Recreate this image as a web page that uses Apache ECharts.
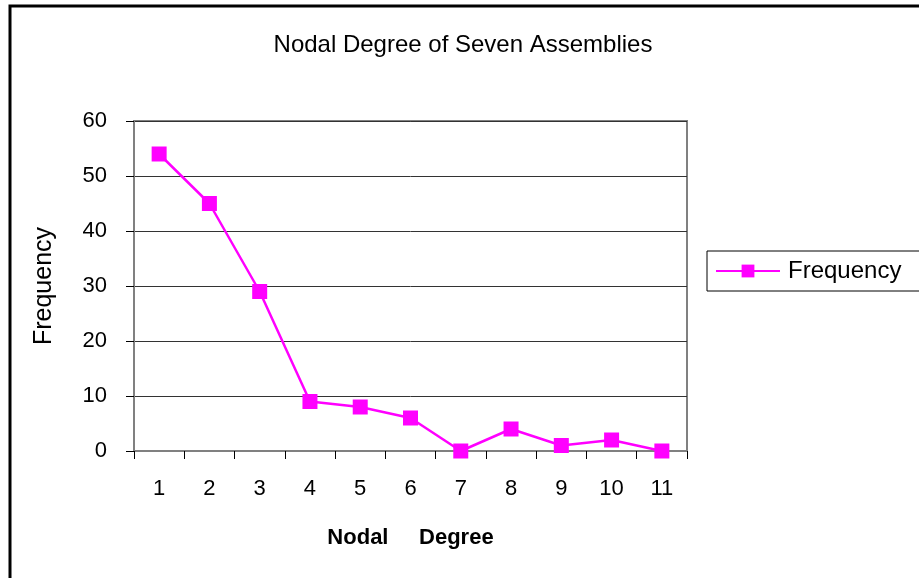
<!DOCTYPE html>
<html>
<head>
<meta charset="utf-8">
<script src="https://cdn.jsdelivr.net/npm/echarts@6/dist/echarts.min.js"></script>
<style>
  html, body { margin: 0; padding: 0; background: #fff; }
  #chart { width: 919px; height: 578px; }
</style>
</head>
<body>
<div id="chart"></div>
<script>
const degrees = ['1', '2', '3', '4', '5', '6', '7', '8', '9', '10', '11']
const frequency = [54, 45, 29, 9, 8, 6, 0, 4, 1, 2, 0]

const chart = echarts.init(document.getElementById('chart'))
const font = 'Liberation Sans, Arial, sans-serif'

chart.setOption({
    animation: false,
    backgroundColor: '#fff',
    title: {
        text: 'Nodal Degree of Seven Assemblies',
        left: 458,
        textAlign: 'center',
        top: 28,
        textStyle: { fontFamily: font, fontSize: 24, fontWeight: 'normal', color: '#000' }
    },
    graphic: [{
        type: 'rect',
        shape: { x: 10, y: 6, width: 1000, height: 1000 },
        style: { fill: 'none', stroke: '#000', lineWidth: 3 },
        silent: true
    }],
    legend: {
        left: 707,
        top: 251,
        orient: 'vertical',
        padding: [8, 40, 8, 8],
        borderColor: '#000',
        borderWidth: 1,
        itemWidth: 64,
        itemHeight: 16,
        itemGap: 0,
        textStyle: { fontFamily: font, fontSize: 24, color: '#000', padding: [0, 0, 0, 3] },
        data: ['Frequency']
    },
    grid: {
        left: 134,
        top: 121,
        right: 232,
        bottom: 127,
        show: true,
        borderColor: '#808080',
        borderWidth: 2
    },
    xAxis: {
        type: 'category',
        data: degrees,
        boundaryGap: true,
        name: 'Nodal     Degree',
        nameLocation: 'middle',
        nameGap: 76,
        nameTextStyle: { fontFamily: font, fontSize: 22, fontWeight: 'bold', color: '#000' },
        axisLine: { lineStyle: { color: '#808080', width: 2 } },
        axisTick: { show: true, length: 8, lineStyle: { color: '#000' } },
        axisLabel: { margin: 27, fontFamily: font, fontSize: 22, color: '#000' }
    },
    yAxis: {
        type: 'value',
        min: 0,
        max: 60,
        interval: 10,
        name: 'Frequency',
        nameLocation: 'middle',
        nameGap: 77,
        nameRotate: 90,
        nameTextStyle: { fontFamily: font, fontSize: 25, color: '#000' },
        axisLine: { show: true, lineStyle: { color: '#808080', width: 2 } },
        axisTick: { show: true, length: 8, lineStyle: { color: '#000' } },
        axisLabel: { margin: 27, fontFamily: font, fontSize: 22, color: '#000' },
        splitLine: { show: true, lineStyle: { color: '#333', width: 1 } }
    },
    series: [{
        name: 'Frequency',
        type: 'line',
        data: frequency,
        symbol: 'rect',
        symbolSize: 15,
        lineStyle: { color: '#ff00ff', width: 2.5 },
        itemStyle: { color: '#ff00ff' }
    }]
})
</script>
</body>
</html>
